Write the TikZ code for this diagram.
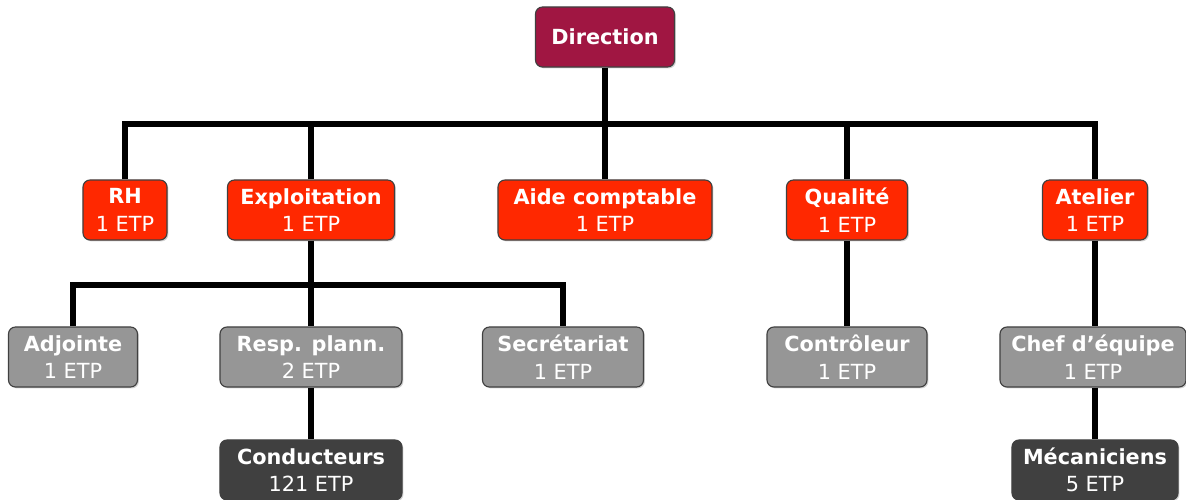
\documentclass[tikz,border=0pt]{standalone}
\usepackage{fontspec}
\setmainfont{DejaVu Sans}
\usepackage{xcolor}
\usepackage{tikz}
\usetikzlibrary{shapes,arrows}
\usetikzlibrary{shadows}
\definecolor{dircolor}{RGB}{160,22,66}
\definecolor{svccolor}{RGB}{255,40,0}
\definecolor{staffcolor}{RGB}{150,150,150}
\definecolor{teamcolor}{RGB}{64,64,64}
\tikzstyle{box} = [rectangle, draw=black!75, line width=0.8pt, rounded corners=5pt,
    text=white, align=center, inner sep=0pt, minimum height=1.5cm,
    font=\fontsize{14.8}{19.5}\selectfont,
    drop shadow={shadow xshift=1pt, shadow yshift=-1pt, opacity=0.35}]
\tikzstyle{direction} = [box, fill=dircolor]
\tikzstyle{service} = [box, fill=svccolor]
\tikzstyle{staff} = [box, fill=staffcolor]
\tikzstyle{team} = [box, fill=teamcolor]
\tikzstyle{line} = [draw, line width=4.5pt]

\begin{document}
\begin{tikzpicture}[x=0.025cm, y=-0.025cm]
    \useasboundingbox (0,0) rectangle (1186,500);
    % Place nodes
    \node [direction, minimum width=3.475cm] (direction) at (605,37) {\bfseries Direction};
    \node [service, minimum width=2.1cm] (rh) at (125,210) {\bfseries RH\\1 ETP};
    \node [service, minimum width=4.175cm] (exploitation) at (311,210) {\bfseries Exploitation\\1 ETP};
    \node [service, minimum width=5.35cm] (aide) at (605,210) {\bfseries Aide comptable\\1 ETP};
    \node [service, minimum width=3.025cm] (qualite) at (847,210) {\bfseries Qualité\\1 ETP};
    \node [service, minimum width=2.625cm] (atelier) at (1095,210) {\bfseries Atelier\\1 ETP};
    \node [staff, minimum width=3.225cm] (adjointe) at (73,357) {\bfseries Adjointe\\1 ETP};
    \node [staff, minimum width=4.55cm] (resp) at (311,357) {\bfseries Resp. plann.\\2 ETP};
    \node [staff, minimum width=4.025cm] (secretariat) at (563,357) {\bfseries Secrétariat\\1 ETP};
    \node [staff, minimum width=4.0cm] (controleur) at (847,357) {\bfseries Contrôleur\\1 ETP};
    \node [staff, minimum width=4.65cm] (chef) at (1093,357) {\bfseries Chef d’équipe\\1 ETP};
    \node [team, minimum width=4.55cm] (conducteurs) at (311,470) {\bfseries Conducteurs\\121 ETP};
    \node [team, minimum width=4.15cm] (mecaniciens) at (1095,470) {\bfseries Mécaniciens\\5 ETP};
    \coordinate (busdir) at (605,124);
    \coordinate (busexpl) at (311,285);
    % Draw edges
    \path [line] (direction) -- (busdir);
    \path [line] (rh) |- (busdir) -| (atelier);
    \path [line] (exploitation.north) -- (exploitation.north |- busdir);
    \path [line] (aide) -- (busdir);
    \path [line] (qualite.north) -- (qualite.north |- busdir);
    \path [line] (exploitation) -- (resp);
    \path [line] (adjointe) |- (busexpl) -| (secretariat);
    \path [line] (resp) -- (conducteurs);
    \path [line] (qualite) -- (controleur);
    \path [line] (atelier.south) -- (atelier.south |- chef.north);
    \path [line] (atelier.south |- chef.south) -- (mecaniciens);

\end{tikzpicture}
\end{document}
